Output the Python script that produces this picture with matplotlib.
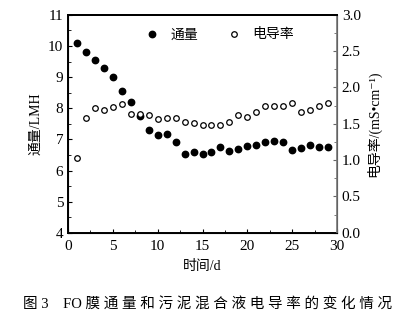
import numpy as np
import matplotlib.pyplot as plt
from matplotlib.ticker import MultipleLocator

plt.rcParams['font.family'] = ['Liberation Serif', 'Noto Sans CJK SC', 'DejaVu Serif']
plt.rcParams['axes.unicode_minus'] = False

# data
days = list(range(1, 30))
flux = [10.08, 9.81, 9.55, 9.28, 9.0, 8.56, 8.2, 7.75, 7.3, 7.15, 7.18, 6.93,
        6.52, 6.6, 6.53, 6.58, 6.77, 6.63, 6.7, 6.8, 6.82, 6.92, 6.95, 6.92,
        6.65, 6.73, 6.83, 6.75, 6.74]
cond = [1.03, 1.58, 1.72, 1.69, 1.73, 1.77, 1.63, 1.63, 1.62, 1.56, 1.58, 1.58,
        1.53, 1.51, 1.49, 1.49, 1.49, 1.53, 1.62, 1.59, 1.66, 1.74, 1.74, 1.75,
        1.79, 1.66, 1.69, 1.75, 1.79]

fig = plt.figure(figsize=(4.15, 3.22), dpi=100)
ax = fig.add_axes([0.164, 0.277, 0.648, 0.677])
ax2 = ax.twinx()

h1, = ax.plot(days, flux, 'o', color='black', markersize=4.6, label='通量')
h2, = ax2.plot(days, cond, 'o', mfc='white', mec='black', mew=0.9,
               markersize=4.0, label='电导率')

ax.set_xlim(0, 30)
ax.set_ylim(4, 11)
ax2.set_ylim(0, 3.0)

ax.xaxis.set_major_locator(MultipleLocator(5))
ax.xaxis.set_minor_locator(MultipleLocator(2.5))
ax.yaxis.set_major_locator(MultipleLocator(1))
ax.yaxis.set_minor_locator(MultipleLocator(0.5))
ax2.yaxis.set_major_locator(MultipleLocator(0.5))
ax2.yaxis.set_minor_locator(MultipleLocator(0.25))
ax2.yaxis.set_major_formatter(plt.FormatStrFormatter('%.1f'))

ax.tick_params(which='both', direction='in', top=False, labelsize=11)
ax.tick_params(axis='x', pad=5)
ax.tick_params(which='major', length=3)
ax.tick_params(which='minor', length=2)
ax2.tick_params(which='both', direction='in', labelsize=11, color='#666666')
ax2.tick_params(which='major', length=3)
ax2.tick_params(which='minor', length=2)

for sp in ['left', 'bottom', 'top']:
    ax.spines[sp].set_linewidth(1.4)
ax2.spines['right'].set_color('#777777')
ax2.spines['right'].set_linewidth(1.2)
ax2.spines['top'].set_linewidth(1.4)

ax.set_xlabel('时间/d', fontsize=10, labelpad=5)
ax.set_ylabel('通量/LMH', fontsize=10, labelpad=4)
ax2.set_ylabel('电导率/(mS•cm⁻¹)', fontsize=10, labelpad=4)

ax.legend([h1, h2], ['通量', '电导率'], loc='upper center', ncol=2,
          frameon=False, fontsize=10, bbox_to_anchor=(0.55, 0.995),
          columnspacing=1.6, handletextpad=0.3)

fig.text(0.5, 0.058, '图 3    FO 膜 通 量 和 污 泥 混 合 液 电 导 率 的 变 化 情 况',
         ha='center', va='center', fontsize=10.5)

fig.savefig('out.png', dpi=100)
